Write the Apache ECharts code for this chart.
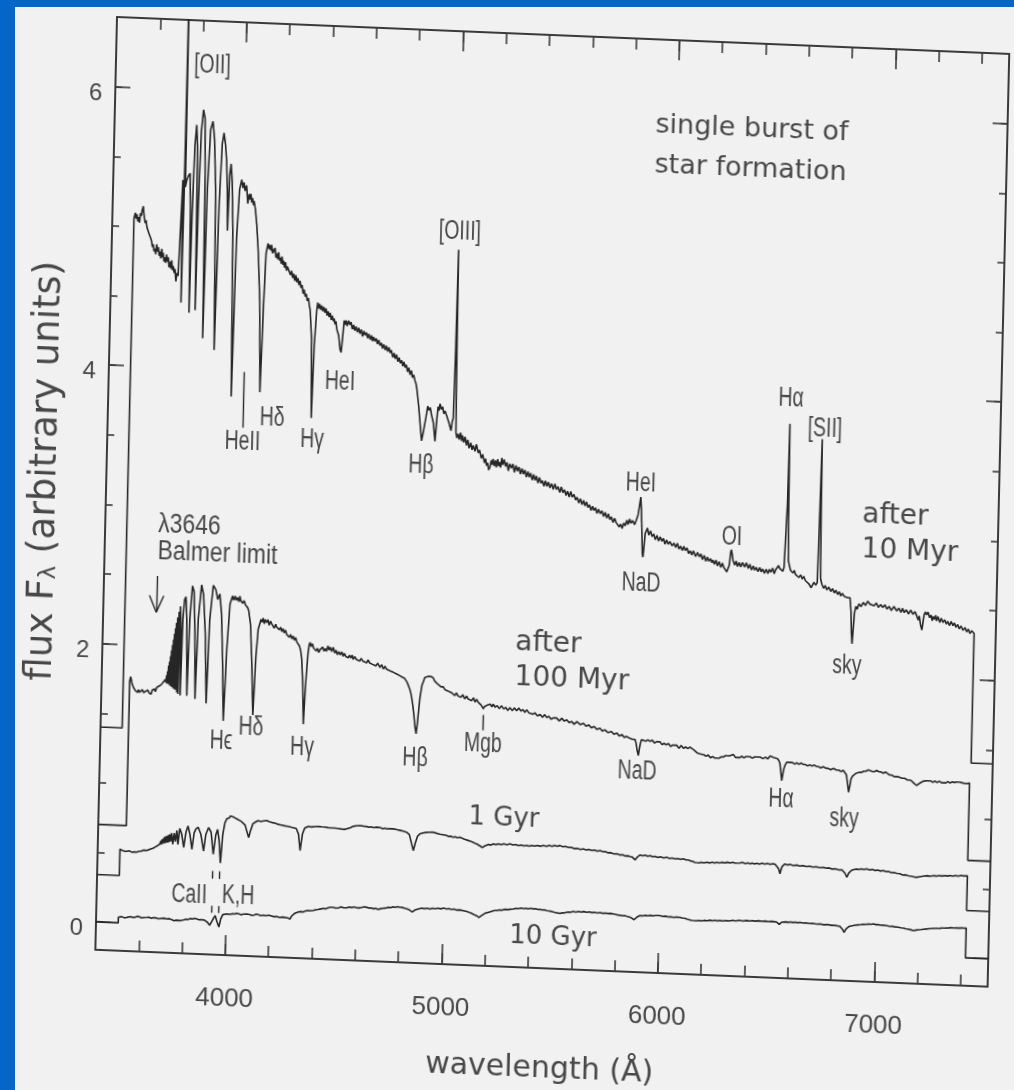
<!DOCTYPE html>
<html>
<head>
<meta charset="utf-8">
<script src="https://cdn.jsdelivr.net/npm/echarts@6/dist/echarts.min.js"></script>
<style>
  html, body { margin: 0; padding: 0; width: 1014px; height: 1090px; overflow: hidden; background: #0466c8; }
  #paper { position: absolute; left: 15px; top: 7px; right: 0; bottom: 0; background: #f1f1f1; }
  /* the printed figure sits slightly skewed on the page */
  #chart { position: absolute; left: 0; top: 0; width: 1014px; height: 1090px;
           transform-origin: 117px 17px; transform: matrix(0.99914, 0.04135, -0.02321, 0.99973, 0, 0); }
</style>
</head>
<body>
<div id="paper"></div>
<div id="chart"></div>
<script>
// Axis ranges and ticks
const X_MIN = 3400, X_MAX = 7525;
const Y_MIN = -0.2, Y_MAX = 6.5;
const xMinorTicks = [3600, 3800, 4000, 4200, 4400, 4600, 4800, 5000, 5200, 5400, 5600, 5800, 6000, 6200, 6400, 6600, 6800, 7000, 7200, 7400];
const xMajorTicks = [4000, 5000, 6000, 7000];
const yMinorTicks = [0, 0.5, 1, 1.5, 2, 2.5, 3, 3.5, 4, 4.5, 5, 5.5, 6];
const yMajorTicks = [0, 2, 4, 6];

// Spectra: [wavelength (Å), flux]; each trace is drawn down to its own zero level at both ends
const spec10Myr = [
  [3400,1.4],[3500,1.4],[3500,5.06],[3506,5.10],[3510,5.06],[3514,5.09],[3518,5.04],[3522,5.07],[3526,5.03],[3530,5.10],[3534,5.08],[3537,5.12],[3542,5.15],[3545,5.10],[3548,5.07],[3552,5.03],[3556,5.05],[3561,5.00],[3565,5.01],[3570,4.96],[3575,4.97],[3580,4.92],[3584,4.90],[3588,4.86],[3592,4.88],[3596,4.83],[3600,4.85],[3604,4.81],[3608,4.88],[3612,4.83],[3616,4.86],[3620,4.80],[3624,4.83],[3628,4.78],[3632,4.85],[3636,4.79],[3639,4.82],[3643,4.76],[3647,4.79],[3651,4.75],[3655,4.81],[3659,4.76],[3663,4.79],[3667,4.72],[3671,4.76],[3675,4.71],[3679,4.77],[3683,4.70],[3687,4.73],[3691,4.68],[3695,4.71],[3700,4.62],[3704,4.68],[3710,4.66],
  [3716,5.0],[3722,5.35],[3726,4.47],[3729,5.2],[3731,7.0],[3734,5.3],[3740,5.35],[3747,5.38],[3755,5.40],[3760,5.1],[3764,4.40],[3768,5.1],[3774,5.6],[3780,5.75],[3786,5.6],[3789,5.1],[3792,4.42],[3796,5.2],[3802,5.7],[3810,5.86],[3818,5.8],[3824,5.4],[3830,4.22],[3836,5.3],[3845,5.72],[3855,5.78],[3864,5.65],[3874,5.3],[3884,4.14],[3892,5.2],[3900,5.62],[3907,5.70],[3915,5.62],[3922,5.5],[3928,5.3],[3933,5.0],[3938,5.40],[3943,5.48],[3950,5.35],[3958,5.0],[3968,3.81],[3976,4.95],[3985,5.3],[3994,5.37],[4000,5.31],[4005,5.35],[4010,5.29],[4017,5.33],[4024,5.20],[4030,5.27],[4034,5.23],[4038,5.27],[4042,5.21],[4046,5.24],[4050,5.19],[4053,5.22],[4060,5.16],[4068,5.05],[4078,4.85],[4090,4.5],[4100,3.85],[4108,4.50],[4114,4.85],
  [4122,4.92],[4127,4.88],[4130,4.91],[4136,4.87],[4139,4.91],[4144,4.85],[4147,4.88],[4152,4.86],[4155,4.89],[4160,4.82],[4163,4.85],[4168,4.81],[4172,4.86],[4177,4.80],[4180,4.82],[4185,4.78],[4188,4.83],[4193,4.77],[4196,4.80],[4201,4.75],[4205,4.79],[4210,4.73],[4214,4.76],[4219,4.74],[4224,4.75],[4229,4.70],[4234,4.73],[4239,4.68],[4244,4.71],[4249,4.66],[4254,4.70],[4259,4.65],[4264,4.68],[4269,4.63],[4274,4.66],[4279,4.61],[4284,4.63],[4289,4.57],[4294,4.60],[4299,4.55],[4304,4.57],[4309,4.52],[4314,4.54],[4319,4.49],[4324,4.45],[4333,4.25],[4340,3.68],[4346,4.2],[4354,4.45],[4358,4.51],[4362,4.47],[4367,4.50],[4372,4.46],[4377,4.49],[4382,4.45],[4387,4.48],[4392,4.44],[4397,4.47],[4402,4.42],[4407,4.45],[4412,4.41],[4417,4.44],[4422,4.39],[4427,4.42],[4432,4.38],[4436,4.40],[4440,4.36],[4444,4.38],[4448,4.33],[4453,4.34],[4458,4.28],[4466,4.18],[4471,4.16],[4477,4.28],[4482,4.39],[4486,4.36],[4491,4.39],[4496,4.35],[4502,4.39],[4509,4.36],[4514,4.38],[4520,4.33],[4526,4.36],[4532,4.32],[4538,4.35],[4544,4.31],[4550,4.34],[4556,4.30],[4562,4.33],[4568,4.28],[4574,4.32],[4580,4.29],[4586,4.31],[4592,4.27],[4598,4.30],[4604,4.26],[4610,4.29],[4615,4.25],[4620,4.28],[4626,4.25],[4632,4.27],[4638,4.23],[4644,4.26],[4650,4.22],[4656,4.24],[4662,4.20],[4668,4.23],[4674,4.19],[4680,4.22],[4686,4.18],[4692,4.21],[4697,4.17],[4703,4.19],[4710,4.14],[4716,4.17],[4722,4.13],[4728,4.16],[4734,4.11],[4740,4.14],[4746,4.10],[4752,4.12],[4757,4.08],[4763,4.11],[4768,4.07],[4774,4.09],[4780,4.04],[4786,4.07],[4792,4.02],[4798,4.05],[4803,4.00],[4809,4.02],[4815,3.98],[4820,3.96],[4825,3.92],[4835,3.80],[4845,3.65],[4852,3.55],[4860,3.62],[4870,3.72],[4877,3.80],[4883,3.77],[4889,3.79],[4895,3.74],[4905,3.68],[4914,3.55],[4920,3.70],[4925,3.80],[4929,3.77],[4934,3.82],[4940,3.78],[4946,3.80],[4952,3.75],[4958,3.77],[4967,3.73],[4973,3.74],[4978,3.68],[4983,3.67],[4987,3.63],[4992,3.70],[4996,3.72],[5000,4.2],[5003,4.93],[5006,4.2],[5010,3.62],[5015,3.58],[5020,3.61],[5026,3.57],[5032,3.62],[5037,3.56],[5041,3.60],[5047,3.55],[5053,3.59],[5060,3.53],[5066,3.57],[5072,3.51],[5080,3.55],[5086,3.50],[5092,3.53],[5100,3.49],[5106,3.54],[5115,3.48],[5121,3.50],[5130,3.44],[5136,3.47],[5145,3.41],[5150,3.44],[5155,3.39],[5160,3.41],[5165,3.36],[5171,3.38],[5176,3.43],[5181,3.40],[5185,3.44],[5190,3.39],[5196,3.43],[5200,3.38],[5206,3.44],[5211,3.39],[5215,3.42],[5220,3.38],[5225,3.45],[5230,3.40],[5236,3.44],[5243,3.39],[5249,3.42],[5256,3.36],[5262,3.41],[5270,3.38],[5277,3.41],[5284,3.35],[5291,3.40],[5298,3.36],[5305,3.39],[5312,3.34],[5319,3.38],[5326,3.34],[5333,3.37],[5340,3.32],[5347,3.36],[5353,3.32],[5360,3.35],[5367,3.30],[5374,3.34],[5380,3.30],[5387,3.33],[5394,3.28],[5401,3.32],[5408,3.28],[5415,3.30],[5422,3.26],[5429,3.30],[5436,3.26],[5443,3.29],[5450,3.25],[5458,3.28],[5466,3.24],[5473,3.28],[5481,3.24],[5488,3.26],[5496,3.22],[5503,3.26],[5510,3.22],[5518,3.24],[5525,3.20],[5532,3.23],[5540,3.19],[5547,3.23],[5554,3.19],[5562,3.21],[5570,3.17],[5577,3.19],[5585,3.15],[5592,3.18],[5600,3.14],[5607,3.17],[5614,3.13],[5621,3.16],[5628,3.12],[5635,3.14],[5642,3.10],[5649,3.13],[5656,3.10],[5663,3.12],[5670,3.08],[5677,3.11],[5685,3.08],[5693,3.10],[5701,3.06],[5708,3.09],[5716,3.05],[5723,3.08],[5730,3.04],[5737,3.06],[5745,3.02],[5752,3.05],[5760,3.02],[5767,3.03],[5774,2.99],[5781,3.01],[5788,2.98],[5795,3.02],[5802,3.00],[5809,3.04],[5815,3.01],[5822,3.05],[5828,3.02],[5836,3.04],[5845,3.01],[5852,3.04],[5860,3.08],[5866,3.15],[5871,3.21],[5875,3.12],[5878,3.02],[5884,2.80],[5887,2.78],[5891,2.86],[5895,2.95],[5900,2.97],[5905,2.99],[5912,2.94],[5920,2.97],[5927,2.93],[5935,2.95],[5942,2.91],[5950,2.94],[5957,2.90],[5965,2.93],[5972,2.90],[5980,2.92],[5987,2.88],[5995,2.91],[6002,2.88],[6010,2.90],[6020,2.87],[6029,2.89],[6037,2.86],[6045,2.89],[6052,2.85],[6060,2.87],[6068,2.84],[6075,2.87],[6082,2.84],[6090,2.86],[6097,2.82],[6105,2.84],[6112,2.81],[6120,2.84],[6130,2.80],[6139,2.83],[6147,2.80],[6155,2.82],[6162,2.78],[6170,2.81],[6178,2.77],[6185,2.80],[6192,2.77],[6200,2.79],[6206,2.76],[6211,2.78],[6218,2.75],[6225,2.78],[6232,2.74],[6240,2.77],[6248,2.73],[6255,2.76],[6262,2.73],[6270,2.74],[6276,2.70],[6281,2.69],[6287,2.75],[6292,2.84],[6295,2.86],[6299,2.83],[6304,2.78],[6312,2.75],[6318,2.78],[6325,2.74],[6332,2.77],[6340,2.74],[6348,2.77],[6358,2.74],[6366,2.77],[6375,2.73],[6382,2.76],[6390,2.72],[6398,2.75],[6405,2.72],[6412,2.74],[6420,2.71],[6428,2.74],[6435,2.71],[6442,2.73],[6450,2.70],[6458,2.73],[6466,2.70],[6473,2.73],[6480,2.71],[6488,2.74],[6495,2.70],[6502,2.73],[6510,2.72],[6515,2.76],[6520,2.74],[6527,2.75],[6535,2.72],[6540,2.75],[6545,2.76],[6549,3.2],[6552,3.78],[6555,3.2],[6559,2.80],[6565,2.76],[6570,2.73],[6576,2.74],[6582,2.71],[6588,2.73],[6594,2.70],[6602,2.71],[6610,2.68],[6618,2.70],[6625,2.67],[6632,2.69],[6640,2.66],[6648,2.67],[6655,2.64],[6661,2.63],[6667,2.61],[6673,2.63],[6680,2.65],[6688,2.63],[6695,2.65],[6699,3.1],[6703,3.68],[6706,3.1],[6710,2.68],[6716,2.64],[6725,2.61],[6732,2.63],[6740,2.60],[6749,2.62],[6758,2.59],[6766,2.61],[6775,2.58],[6782,2.60],[6790,2.57],[6798,2.59],[6805,2.56],[6812,2.58],[6820,2.56],[6828,2.57],[6835,2.55],[6842,2.56],[6848,2.55],[6854,2.45],[6858,2.30],[6862,2.22],[6866,2.33],[6870,2.44],[6876,2.49],[6882,2.47],[6890,2.51],[6900,2.49],[6910,2.52],[6920,2.50],[6930,2.53],[6941,2.51],[6950,2.52],[6960,2.50],[6970,2.52],[6980,2.49],[6990,2.51],[7001,2.49],[7010,2.51],[7020,2.48],[7030,2.50],[7040,2.47],[7052,2.50],[7065,2.47],[7075,2.49],[7085,2.46],[7092,2.49],[7100,2.46],[7110,2.48],[7120,2.45],[7130,2.48],[7140,2.45],[7150,2.47],[7158,2.44],[7165,2.41],[7170,2.44],[7176,2.38],[7183,2.34],[7188,2.40],[7192,2.45],[7198,2.47],[7204,2.45],[7210,2.47],[7218,2.43],[7224,2.45],[7230,2.41],[7234,2.44],[7240,2.42],[7246,2.45],[7250,2.41],[7257,2.44],[7265,2.40],[7272,2.43],[7280,2.40],[7288,2.42],[7295,2.39],[7302,2.41],[7310,2.38],[7318,2.41],[7326,2.38],[7333,2.40],[7340,2.37],[7348,2.39],[7355,2.36],[7364,2.38],[7373,2.35],[7382,2.37],[7390,2.34],[7398,2.36],[7405,2.33],[7414,2.35],[7425,2.33],[7425,1.4],[7525,1.4]
];

const spec100Myr = [
  [3400,0.7],[3530,0.7],[3530,1.74],[3534,1.77],[3537,1.75],[3541,1.72],[3545,1.71],[3549,1.69],[3553,1.70],[3558,1.67],[3563,1.68],[3568,1.66],[3572,1.68],[3576,1.66],[3580,1.67],[3585,1.65],[3590,1.68],[3595,1.66],[3600,1.65],[3605,1.67],[3610,1.66],[3615,1.68],[3620,1.66],[3625,1.67],[3630,1.65],[3635,1.68],[3640,1.67],[3645,1.69],[3650,1.67],[3655,1.70],[3660,1.69],[3665,1.71],[3670,1.70],[3675,1.72],[3680,1.71],[3685,1.74],[3690,1.73],[3694,1.76],
  [3697,1.74],[3700,1.79],[3702,1.73],[3704,1.82],[3706,1.73],[3708,1.86],[3710,1.73],[3712,1.89],[3714,1.72],[3716,1.93],[3718,1.72],[3720,1.97],[3722,1.71],[3724,2.01],[3726,1.71],[3728,2.05],[3730,1.70],[3732,2.09],[3734,1.70],[3736,2.13],[3738,1.69],[3740,2.17],[3742,1.69],[3745,2.21],[3748,1.67],[3751,2.25],[3754,1.66],[3757,2.29],[3761,2.12],[3764,1.65],[3769,2.2],[3775,2.34],[3781,2.36],[3787,2.2],[3795,1.65],[3801,2.2],[3810,2.44],[3818,2.40],[3826,2.1],[3833,1.63],[3840,2.2],[3852,2.45],[3862,2.38],[3874,2.1],[3885,1.60],[3893,2.2],[3906,2.45],[3918,2.42],[3928,2.35],[3937,2.39],[3947,2.25],[3957,1.9],[3966,1.48],[3975,2.0],[3985,2.32],[3996,2.38],[4002,2.35],[4008,2.38],[4014,2.35],[4020,2.37],[4026,2.34],[4030,2.38],[4034,2.35],[4038,2.36],[4044,2.33],[4050,2.35],[4056,2.32],[4062,2.33],[4067,2.30],[4072,2.28],[4082,2.18],[4092,1.9],[4102,1.53],[4110,1.95],[4118,2.15],
  [4125,2.19],[4130,2.22],[4135,2.20],[4140,2.23],[4145,2.19],[4150,2.22],[4156,2.20],[4162,2.22],[4168,2.18],[4174,2.21],[4180,2.19],[4186,2.20],[4192,2.16],[4198,2.19],[4203,2.17],[4209,2.18],[4215,2.15],[4221,2.17],[4227,2.14],[4233,2.16],[4238,2.13],[4244,2.15],[4250,2.12],[4256,2.13],[4262,2.10],[4268,2.12],[4274,2.09],[4280,2.11],[4286,2.08],[4292,2.10],[4297,2.07],[4303,2.07],[4310,2.04],[4316,2.01],[4322,1.95],[4330,1.75],[4336,1.48],[4342,1.75],[4350,1.98],[4355,2.05],[4359,2.07],[4364,2.04],[4370,2.06],[4376,2.03],[4382,2.04],[4388,2.01],[4394,2.03],[4400,2.00],[4406,2.02],[4412,2.01],[4418,2.04],[4424,2.01],[4430,2.03],[4436,2.01],[4442,2.05],[4448,2.02],[4454,2.04],[4460,2.01],[4467,2.04],[4474,2.00],[4480,2.02],[4486,1.99],[4493,2.01],[4500,1.99],[4507,2.01],[4513,1.98],[4519,2.00],[4525,1.98],[4531,1.99],[4537,1.97],[4543,1.99],[4549,1.97],[4555,1.99],[4560,1.96],[4567,1.98],[4575,1.96],[4582,1.97],[4590,1.95],[4597,1.97],[4605,1.95],[4613,1.96],[4622,1.94],[4629,1.96],[4636,1.94],[4643,1.95],[4650,1.93],[4657,1.94],[4665,1.92],[4674,1.94],[4684,1.91],[4692,1.93],[4700,1.90],[4708,1.92],[4715,1.90],[4722,1.91],[4730,1.89],[4738,1.90],[4746,1.88],[4753,1.89],[4760,1.87],[4767,1.88],[4773,1.86],[4779,1.87],[4785,1.85],[4793,1.86],[4799,1.84],[4805,1.84],[4812,1.81],[4818,1.80],[4825,1.76],[4832,1.72],[4840,1.65],[4846,1.58],[4852,1.50],[4858,1.445],[4863,1.52],[4868,1.62],[4872,1.70],[4877,1.76],[4881,1.80],[4886,1.82],[4892,1.85],[4900,1.84],[4906,1.86],[4915,1.85],[4922,1.86],[4932,1.85],[4938,1.83],[4945,1.84],[4952,1.81],[4960,1.81],[4968,1.79],[4979,1.79],[4987,1.77],[4995,1.78],[5002,1.76],[5010,1.77],[5018,1.75],[5026,1.75],[5033,1.73],[5040,1.75],[5047,1.73],[5055,1.74],[5062,1.72],[5070,1.74],[5079,1.71],[5088,1.73],[5095,1.71],[5103,1.72],[5111,1.70],[5120,1.72],[5127,1.69],[5135,1.71],[5142,1.69],[5150,1.69],[5156,1.67],[5160,1.67],[5166,1.645],[5171,1.66],[5175,1.655],[5182,1.67],[5190,1.66],[5198,1.68],[5205,1.66],[5212,1.68],[5220,1.66],[5230,1.67],[5240,1.65],[5250,1.67],[5260,1.65],[5270,1.66],[5279,1.64],[5289,1.66],[5300,1.64],[5310,1.66],[5320,1.64],[5330,1.66],[5340,1.64],[5350,1.65],[5358,1.63],[5367,1.65],[5376,1.63],[5385,1.64],[5395,1.62],[5405,1.63],[5417,1.61],[5429,1.62],[5440,1.60],[5450,1.62],[5460,1.60],[5470,1.61],[5480,1.59],[5490,1.60],[5498,1.59],[5506,1.60],[5518,1.58],[5530,1.60],[5541,1.58],[5553,1.59],[5564,1.57],[5575,1.58],[5587,1.56],[5600,1.58],[5615,1.56],[5630,1.57],[5642,1.55],[5655,1.56],[5667,1.54],[5680,1.55],[5693,1.53],[5707,1.54],[5718,1.52],[5730,1.53],[5745,1.51],[5760,1.52],[5772,1.50],[5785,1.51],[5797,1.49],[5810,1.50],[5820,1.48],[5830,1.49],[5840,1.48],[5847,1.49],[5858,1.47],[5870,1.47],[5876,1.44],[5880,1.40],[5887,1.355],[5891,1.40],[5895,1.44],[5900,1.47],[5908,1.48],[5919,1.46],[5930,1.47],[5940,1.46],[5950,1.47],[5960,1.45],[5970,1.46],[5978,1.45],[5986,1.46],[5995,1.44],[6005,1.45],[6015,1.44],[6025,1.45],[6035,1.43],[6045,1.44],[6054,1.43],[6063,1.44],[6074,1.42],[6085,1.44],[6095,1.42],[6105,1.43],[6115,1.42],[6125,1.43],[6135,1.42],[6145,1.41],[6153,1.40],[6160,1.39],[6166,1.38],[6172,1.385],[6181,1.38],[6190,1.38],[6200,1.37],[6210,1.38],[6220,1.36],[6230,1.37],[6240,1.36],[6249,1.37],[6260,1.36],[6270,1.37],[6280,1.37],[6290,1.38],[6299,1.37],[6308,1.38],[6317,1.38],[6326,1.39],[6336,1.37],[6345,1.38],[6355,1.37],[6365,1.38],[6375,1.37],[6385,1.38],[6394,1.37],[6403,1.38],[6414,1.37],[6425,1.38],[6437,1.38],[6450,1.38],[6462,1.37],[6475,1.38],[6485,1.37],[6496,1.39],[6505,1.38],[6515,1.38],[6523,1.37],[6530,1.375],[6537,1.36],[6542,1.34],[6547,1.28],[6552,1.218],[6556,1.26],[6560,1.30],[6566,1.33],[6573,1.35],[6581,1.36],[6590,1.35],[6600,1.35],[6610,1.34],[6620,1.35],[6630,1.34],[6640,1.35],[6650,1.34],[6660,1.34],[6670,1.33],[6680,1.34],[6690,1.33],[6700,1.34],[6710,1.33],[6720,1.33],[6730,1.32],[6743,1.33],[6754,1.32],[6765,1.32],[6777,1.31],[6790,1.32],[6803,1.31],[6815,1.31],[6825,1.30],[6835,1.31],[6843,1.30],[6850,1.28],[6856,1.22],[6862,1.155],[6867,1.20],[6872,1.25],[6878,1.27],[6885,1.28],[6892,1.29],[6898,1.29],[6908,1.30],[6920,1.30],[6930,1.31],[6940,1.31],[6950,1.32],[6959,1.32],[6970,1.31],[6980,1.31],[6990,1.32],[7000,1.31],[7010,1.31],[7020,1.30],[7030,1.31],[7040,1.30],[7050,1.29],[7060,1.29],[7070,1.28],[7080,1.28],[7090,1.28],[7098,1.277],[7108,1.27],[7120,1.27],[7132,1.26],[7145,1.26],[7155,1.25],[7165,1.235],[7170,1.24],[7176,1.223],[7183,1.23],[7190,1.24],[7197,1.25],[7205,1.255],[7213,1.26],[7222,1.26],[7231,1.25],[7240,1.26],[7250,1.25],[7260,1.26],[7270,1.25],[7280,1.26],[7290,1.25],[7299,1.26],[7310,1.25],[7320,1.26],[7330,1.25],[7340,1.26],[7350,1.255],[7360,1.26],[7368,1.25],[7376,1.26],[7386,1.255],[7395,1.26],[7403,1.25],[7410,1.256],[7420,1.255],[7420,0.7],[7525,0.7]
];

const spec1Gyr = [
  [3400,0.34],[3503,0.34],[3503,0.53],[3509,0.525],[3515,0.52],[3522,0.51],[3530,0.515],[3537,0.52],[3545,0.52],[3552,0.51],[3560,0.51],[3570,0.515],[3580,0.512],[3590,0.52],[3600,0.52],[3612,0.53],[3626,0.527],[3635,0.535],[3645,0.54],[3655,0.545],[3665,0.555],[3676,0.565],[3687,0.579],
  [3690,0.60],[3693,0.575],[3696,0.61],[3699,0.58],[3702,0.62],[3705,0.585],[3708,0.63],[3711,0.585],[3714,0.635],[3717,0.59],[3720,0.64],[3723,0.59],[3726,0.645],[3729,0.595],[3732,0.65],[3736,0.60],[3740,0.66],[3746,0.58],[3752,0.66],[3758,0.60],[3764,0.68],[3770,0.58],[3777,0.695],[3786,0.66],[3797,0.56],[3806,0.67],[3815,0.716],[3824,0.66],[3835,0.55],[3844,0.67],[3852,0.697],[3862,0.71],[3875,0.66],[3889,0.54],[3898,0.66],[3910,0.71],[3922,0.68],[3934,0.52],[3944,0.66],[3952,0.70],[3960,0.62],[3968,0.46],[3976,0.66],[3985,0.75],[3993,0.778],[4000,0.79],[4004,0.785],[4010,0.80],[4015,0.803],[4022,0.795],[4028,0.79],[4034,0.785],[4040,0.78],[4047,0.775],[4054,0.77],[4060,0.765],[4065,0.76],[4078,0.74],[4088,0.69],[4096,0.65],[4104,0.70],[4114,0.75],[4124,0.762],[4131,0.77],[4138,0.775],[4144,0.768],[4150,0.77],[4158,0.765],[4165,0.775],[4172,0.77],[4178,0.778],[4185,0.768],[4192,0.77],[4198,0.762],[4205,0.765],[4212,0.758],[4220,0.76],[4230,0.754],[4239,0.758],[4247,0.75],[4255,0.752],[4262,0.745],[4270,0.748],[4278,0.742],[4285,0.745],[4293,0.737],[4301,0.738],[4315,0.73],[4326,0.69],[4335,0.572],[4344,0.69],[4354,0.735],[4363,0.742],[4370,0.748],[4378,0.75],[4385,0.745],[4393,0.755],[4402,0.75],[4410,0.757],[4418,0.752],[4424,0.758],[4432,0.75],[4440,0.755],[4448,0.748],[4455,0.75],[4462,0.745],[4470,0.748],[4478,0.744],[4486,0.75],[4493,0.744],[4500,0.748],[4508,0.742],[4515,0.745],[4522,0.74],[4530,0.743],[4538,0.738],[4548,0.742],[4556,0.748],[4565,0.752],[4575,0.76],[4585,0.765],[4597,0.768],[4609,0.77],[4617,0.764],[4625,0.767],[4632,0.762],[4640,0.765],[4650,0.76],[4660,0.764],[4672,0.758],[4686,0.763],[4695,0.757],[4705,0.76],[4715,0.754],[4725,0.758],[4735,0.753],[4745,0.757],[4754,0.752],[4763,0.756],[4772,0.75],[4780,0.752],[4788,0.745],[4795,0.747],[4802,0.74],[4810,0.742],[4818,0.735],[4825,0.736],[4838,0.72],[4850,0.65],[4858,0.606],[4866,0.66],[4876,0.71],[4887,0.728],[4894,0.732],[4900,0.735],[4908,0.73],[4915,0.74],[4922,0.735],[4930,0.742],[4938,0.736],[4947,0.744],[4955,0.735],[4962,0.738],[4970,0.73],[4978,0.732],[4986,0.725],[4995,0.728],[5002,0.72],[5010,0.724],[5020,0.717],[5030,0.72],[5040,0.714],[5050,0.718],[5060,0.712],[5072,0.716],[5081,0.708],[5090,0.705],[5100,0.7],[5110,0.695],[5120,0.69],[5130,0.685],[5140,0.678],[5150,0.673],[5165,0.66],[5176,0.648],[5187,0.66],[5196,0.668],[5205,0.672],[5215,0.668],[5227,0.678],[5238,0.672],[5250,0.68],[5262,0.675],[5275,0.682],[5290,0.676],[5304,0.683],[5317,0.676],[5330,0.68],[5343,0.673],[5355,0.678],[5368,0.672],[5381,0.676],[5393,0.672],[5405,0.678],[5418,0.674],[5430,0.68],[5444,0.675],[5458,0.681],[5472,0.676],[5485,0.683],[5498,0.678],[5510,0.685],[5522,0.68],[5535,0.686],[5548,0.678],[5560,0.682],[5575,0.674],[5590,0.675],[5602,0.668],[5615,0.67],[5630,0.664],[5643,0.669],[5656,0.662],[5670,0.666],[5683,0.66],[5695,0.664],[5708,0.657],[5720,0.662],[5733,0.654],[5745,0.656],[5758,0.648],[5770,0.65],[5784,0.642],[5798,0.643],[5812,0.636],[5825,0.638],[5838,0.63],[5850,0.632],[5860,0.628],[5870,0.625],[5877,0.615],[5883,0.605],[5888,0.615],[5893,0.625],[5899,0.638],[5905,0.642],[5918,0.636],[5930,0.642],[5941,0.635],[5952,0.64],[5964,0.633],[5975,0.637],[5988,0.63],[6000,0.635],[6015,0.628],[6029,0.633],[6042,0.626],[6055,0.63],[6068,0.624],[6080,0.628],[6093,0.622],[6106,0.627],[6118,0.62],[6130,0.62],[6140,0.614],[6150,0.612],[6160,0.604],[6168,0.606],[6180,0.602],[6190,0.608],[6202,0.604],[6215,0.61],[6228,0.605],[6240,0.611],[6250,0.606],[6261,0.612],[6273,0.608],[6285,0.614],[6298,0.61],[6310,0.616],[6322,0.611],[6335,0.617],[6345,0.612],[6353,0.618],[6366,0.613],[6380,0.618],[6392,0.612],[6405,0.617],[6415,0.612],[6425,0.617],[6435,0.611],[6446,0.617],[6458,0.612],[6470,0.618],[6482,0.613],[6495,0.619],[6508,0.613],[6520,0.619],[6532,0.614],[6540,0.61],[6547,0.585],[6554,0.548],[6558,0.575],[6563,0.6],[6569,0.612],[6575,0.62],[6588,0.614],[6600,0.618],[6615,0.612],[6630,0.616],[6645,0.61],[6661,0.614],[6675,0.608],[6690,0.612],[6705,0.606],[6720,0.61],[6737,0.604],[6754,0.608],[6767,0.602],[6780,0.605],[6795,0.598],[6810,0.6],[6825,0.594],[6840,0.595],[6848,0.585],[6855,0.57],[6863,0.543],[6868,0.56],[6872,0.575],[6878,0.588],[6885,0.595],[6895,0.6],[6905,0.605],[6918,0.602],[6930,0.608],[6942,0.604],[6954,0.61],[6967,0.603],[6980,0.607],[6992,0.6],[7005,0.604],[7018,0.598],[7031,0.602],[7043,0.595],[7055,0.597],[7068,0.59],[7080,0.592],[7094,0.586],[7108,0.584],[7121,0.576],[7135,0.578],[7148,0.572],[7160,0.57],[7173,0.566],[7186,0.564],[7198,0.568],[7210,0.572],[7222,0.575],[7235,0.578],[7249,0.576],[7263,0.581],[7276,0.578],[7290,0.583],[7302,0.58],[7315,0.585],[7328,0.582],[7340,0.586],[7352,0.583],[7365,0.588],[7378,0.585],[7390,0.59],[7405,0.587],[7420,0.59],[7420,0.34],[7525,0.34]
];

const spec10Gyr = [
  [3400,0],[3503,0],[3503,0.04],[3511,0.046],[3520,0.045],[3530,0.038],[3540,0.04],[3550,0.045],[3560,0.048],[3570,0.042],[3580,0.045],[3590,0.052],[3600,0.05],[3610,0.043],[3620,0.046],[3627,0.04],[3634,0.048],[3644,0.05],[3655,0.043],[3665,0.048],[3675,0.047],[3688,0.04],[3700,0.044],[3713,0.047],[3726,0.042],[3738,0.045],[3750,0.038],[3760,0.032],[3770,0.036],[3779,0.03],[3788,0.034],[3796,0.042],[3805,0.04],[3815,0.046],[3825,0.045],[3835,0.052],[3845,0.05],[3855,0.055],[3865,0.051],[3875,0.046],[3885,0.048],[3893,0.04],[3900,0.045],[3908,0.038],[3915,0.03],[3920,0.02],[3925,0.01],[3934,0.0],[3942,0.06],[3950,0.08],[3958,0.04],[3968,0.0],[3976,0.06],[3985,0.09],[3994,0.1],[4003,0.096],[4012,0.09],[4020,0.094],[4030,0.1],[4040,0.098],[4050,0.104],[4060,0.1],[4070,0.095],[4080,0.1],[4088,0.106],[4095,0.102],[4103,0.095],[4110,0.098],[4120,0.092],[4130,0.097],[4140,0.103],[4150,0.1],[4160,0.094],[4170,0.098],[4178,0.1],[4187,0.096],[4198,0.1],[4210,0.095],[4222,0.09],[4235,0.092],[4248,0.086],[4260,0.09],[4272,0.088],[4285,0.085],[4296,0.079],[4303,0.1],[4310,0.11],[4318,0.122],[4327,0.128],[4335,0.132],[4345,0.135],[4355,0.132],[4365,0.14],[4375,0.145],[4385,0.143],[4394,0.15],[4402,0.146],[4413,0.152],[4425,0.155],[4437,0.16],[4450,0.165],[4460,0.162],[4470,0.17],[4482,0.175],[4494,0.175],[4507,0.17],[4520,0.173],[4530,0.18],[4540,0.176],[4549,0.172],[4557,0.175],[4568,0.182],[4580,0.178],[4590,0.184],[4600,0.18],[4612,0.178],[4625,0.183],[4637,0.188],[4649,0.185],[4660,0.18],[4670,0.182],[4680,0.176],[4690,0.18],[4700,0.174],[4710,0.178],[4722,0.182],[4735,0.185],[4748,0.192],[4760,0.19],[4770,0.196],[4780,0.193],[4792,0.198],[4803,0.195],[4814,0.194],[4825,0.19],[4835,0.186],[4845,0.18],[4853,0.172],[4860,0.165],[4866,0.172],[4872,0.18],[4880,0.188],[4890,0.19],[4902,0.195],[4915,0.192],[4928,0.197],[4941,0.192],[4953,0.198],[4965,0.195],[4978,0.2],[4990,0.196],[5004,0.202],[5018,0.197],[5029,0.2],[5040,0.195],[5052,0.198],[5065,0.192],[5080,0.194],[5095,0.19],[5108,0.186],[5120,0.18],[5133,0.174],[5145,0.165],[5157,0.158],[5168,0.146],[5176,0.155],[5185,0.165],[5197,0.178],[5210,0.185],[5220,0.19],[5230,0.195],[5240,0.2],[5250,0.2],[5262,0.206],[5275,0.205],[5288,0.212],[5300,0.21],[5313,0.214],[5326,0.217],[5338,0.222],[5350,0.22],[5362,0.225],[5375,0.222],[5385,0.226],[5395,0.222],[5407,0.227],[5418,0.223],[5429,0.225],[5440,0.22],[5450,0.222],[5460,0.218],[5470,0.22],[5480,0.215],[5492,0.213],[5505,0.21],[5515,0.206],[5525,0.203],[5533,0.2],[5542,0.199],[5553,0.203],[5565,0.205],[5577,0.21],[5590,0.21],[5602,0.216],[5615,0.213],[5628,0.218],[5640,0.215],[5652,0.219],[5665,0.215],[5678,0.218],[5690,0.214],[5702,0.217],[5715,0.213],[5728,0.216],[5740,0.212],[5752,0.215],[5765,0.212],[5776,0.214],[5788,0.211],[5800,0.208],[5810,0.205],[5820,0.203],[5830,0.2],[5840,0.202],[5850,0.198],[5860,0.195],[5870,0.19],[5878,0.183],[5885,0.175],[5891,0.185],[5898,0.195],[5905,0.203],[5912,0.207],[5923,0.205],[5935,0.21],[5948,0.208],[5960,0.212],[5972,0.209],[5985,0.213],[5994,0.21],[6004,0.213],[6017,0.208],[6030,0.21],[6042,0.206],[6055,0.208],[6068,0.204],[6080,0.207],[6088,0.203],[6097,0.206],[6108,0.202],[6120,0.2],[6130,0.195],[6140,0.192],[6150,0.188],[6159,0.187],[6172,0.186],[6185,0.19],[6197,0.188],[6210,0.192],[6222,0.19],[6235,0.194],[6248,0.191],[6260,0.195],[6270,0.192],[6282,0.195],[6296,0.193],[6310,0.197],[6325,0.195],[6340,0.2],[6355,0.197],[6370,0.202],[6388,0.199],[6405,0.203],[6418,0.2],[6430,0.204],[6445,0.201],[6460,0.205],[6475,0.202],[6490,0.205],[6505,0.202],[6520,0.205],[6533,0.203],[6545,0.2],[6550,0.192],[6556,0.185],[6561,0.192],[6566,0.2],[6575,0.203],[6585,0.205],[6597,0.203],[6610,0.206],[6620,0.203],[6630,0.206],[6641,0.203],[6652,0.206],[6666,0.202],[6680,0.204],[6695,0.2],[6710,0.202],[6728,0.198],[6745,0.2],[6762,0.196],[6780,0.198],[6795,0.194],[6810,0.195],[6823,0.192],[6835,0.19],[6842,0.182],[6848,0.17],[6852,0.158],[6856,0.147],[6861,0.16],[6866,0.175],[6873,0.185],[6880,0.192],[6888,0.196],[6897,0.198],[6908,0.202],[6920,0.205],[6933,0.207],[6945,0.21],[6957,0.211],[6970,0.214],[6980,0.213],[6991,0.216],[7003,0.212],[7015,0.213],[7025,0.209],[7035,0.21],[7044,0.206],[7053,0.208],[7066,0.204],[7080,0.205],[7092,0.201],[7105,0.2],[7118,0.197],[7130,0.195],[7140,0.191],[7150,0.19],[7158,0.186],[7165,0.185],[7170,0.182],[7176,0.18],[7183,0.183],[7190,0.185],[7200,0.188],[7210,0.19],[7223,0.193],[7237,0.196],[7248,0.198],[7260,0.2],[7272,0.202],[7285,0.204],[7298,0.205],[7310,0.207],[7320,0.208],[7329,0.21],[7340,0.21],[7350,0.212],[7362,0.211],[7375,0.213],[7388,0.212],[7400,0.214],[7410,0.213],[7420,0.215],[7420,0],[7525,0]
];

// Text annotations: [wavelength, flux, text]
const lineLabels = [
  [3846,6.18,'[OII]'], [4025,3.49,'HeII'], [4159,3.67,'H\u03b4'], [4346,3.52,'H\u03b3'], [4469,3.945,'HeI'],
  [4852,3.37,'H\u03b2'], [5007,5.06,'[OIII]'], [5870,3.31,'HeI'], [5881,2.59,'NaD'], [6296,2.95,'OI'],
  [6554,3.96,'H\u03b1'], [6714,3.75,'[SII]'], [6841,2.06,'sky'],
  [3958,1.33,'H\u03f5'], [4095,1.44,'H\u03b4'], [4333,1.31,'H\u03b3'], [4856,1.27,'H\u03b2'], [5168,1.39,'Mgb'],
  [5883,1.24,'NaD'], [6551,1.08,'H\u03b1'], [6844,0.96,'sky']
];
const caLabelLeft = [[3910,0.22,'CaII']];
const caLabelRight = [[3979,0.224,'K,H']];
const balmerLabel = [[3645,2.77,'\u03bb3646\nBalmer limit']];
const ageLabels = [[6896,3.02,'after\n10 Myr'], [5307,2.0,'after\n100 Myr']];
const titleLabel = [[5899,5.74,'single burst of\nstar formation']];
const gyrLabels = [[5273,0.86,'1 Gyr'], [5512,0.02,'10 Gyr']];

// Short marker strokes: [wavelength, flux from, flux to]
const markerTicks = [[4025,3.99,3.59],[5168,1.60,1.49],[3931,0.40,0.345],[3965,0.40,0.345],[3931,0.15,0.10],[3965,0.15,0.10]];
// Arrow pointing at the Balmer limit: shaft and two head strokes
const arrowStrokes = [[[3645,2.50],[3645,2.24]], [[3645,2.24],[3612,2.36]], [[3645,2.24],[3678,2.36]]];

const INK = '#262626';
const AXIS = '#3a3a3a';
const TEXT = '#474747';
const SANS = '"Liberation Sans", Arial, sans-serif';
const WIDE = '"DejaVu Sans", "Liberation Sans", sans-serif';

function xAxisDef(pos, ticks, len, withLine, extra) {
  return Object.assign({
    type: 'value', position: pos, min: X_MIN, max: X_MAX,
    axisLine: { show: withLine, onZero: false, lineStyle: { color: AXIS, width: 2 } },
    axisTick: { show: true, inside: true, length: len, customValues: ticks, lineStyle: { color: AXIS, width: 1.6 } },
    axisLabel: { show: false }, splitLine: { show: false }
  }, extra || {});
}
function yAxisDef(pos, ticks, len, withLine, extra) {
  return Object.assign({
    type: 'value', position: pos, min: Y_MIN, max: Y_MAX,
    axisLine: { show: withLine, onZero: false, lineStyle: { color: AXIS, width: 2 } },
    axisTick: { show: true, inside: true, length: len, customValues: ticks, lineStyle: { color: AXIS, width: 1.6 } },
    axisLabel: { show: false }, splitLine: { show: false }
  }, extra || {});
}

function spectrum(data) {
  return { type: 'line', data: data, showSymbol: false, symbol: 'none', silent: true, z: 3,
           lineStyle: { color: INK, width: 1.6 }, clip: true };
}

// Text placed at data coordinates; scaleX narrows the lettering
function textSeries(items, opts) {
  return {
    type: 'custom', silent: true, z: 6, clip: false,
    data: items.map(d => [d[0], d[1]]),
    renderItem: function (params, api) {
      const p = api.coord([api.value(0), api.value(1)]);
      return {
        type: 'text', x: p[0], y: p[1], scaleX: opts.scaleX || 1,
        style: {
          text: items[params.dataIndex][2], fill: TEXT,
          fontSize: opts.fontSize, fontFamily: opts.fontFamily,
          lineHeight: opts.lineHeight || opts.fontSize * 1.2,
          align: opts.align || 'center', verticalAlign: 'middle'
        }
      };
    }
  };
}

const chart = echarts.init(document.getElementById('chart'), null, { renderer: 'canvas' });
chart.setOption({
  animation: false,
  backgroundColor: 'transparent',
  grid: { left: 117, top: 17, width: 893, height: 933 },
  xAxis: [
    xAxisDef('bottom', xMinorTicks, 11, true, {
      axisLabel: { show: true, customValues: xMajorTicks, formatter: v => String(v), margin: 31,
                   fontSize: 26, color: TEXT, fontFamily: SANS },
      name: 'wavelength (\u00c5)', nameLocation: 'middle', nameGap: 86,
      nameTextStyle: { fontSize: 30, color: TEXT, fontFamily: WIDE }
    }),
    xAxisDef('bottom', xMajorTicks, 20, false),
    xAxisDef('top', xMinorTicks, 11, true),
    xAxisDef('top', xMajorTicks, 20, false)
  ],
  yAxis: [
    yAxisDef('left', yMinorTicks, 7, true, {
      axisLabel: { show: true, customValues: yMajorTicks, formatter: v => String(v), margin: 13,
                   verticalAlign: 'top', lineHeight: 15, fontSize: 24, color: TEXT, fontFamily: SANS },
      name: 'flux F{sub|\u03bb} (arbitrary units)', nameLocation: 'middle', nameRotate: 90, nameGap: 42,
      nameTextStyle: { fontSize: 37, color: TEXT, fontFamily: WIDE, padding: [0, 0, 0, 20],
        rich: { sub: { fontSize: 23, fontFamily: WIDE, color: TEXT, padding: [12, 0, 0, 0] } } }
    }),
    yAxisDef('left', yMajorTicks, 15, false),
    yAxisDef('right', yMinorTicks, 7, true),
    yAxisDef('right', yMajorTicks, 15, false)
  ],
  series: [
    spectrum(spec10Myr),
    spectrum(spec100Myr),
    spectrum(spec1Gyr),
    spectrum(spec10Gyr),
    {
      type: 'line', data: [], silent: true, z: 4,
      markLine: {
        silent: true, symbol: ['none', 'none'], label: { show: false },
        lineStyle: { color: INK, width: 1.4, type: 'solid' },
        emphasis: { disabled: true },
        data: markerTicks.map(m => [{ coord: [m[0], m[1]] }, { coord: [m[0], m[2]] }])
          .concat(arrowStrokes.map(s => [{ coord: s[0] }, { coord: s[1] }]))
      }
    },
    textSeries(lineLabels, { fontSize: 27, fontFamily: SANS, scaleX: 0.72 }),
    textSeries(caLabelLeft, { fontSize: 27, fontFamily: SANS, scaleX: 0.72, align: 'right' }),
    textSeries(caLabelRight, { fontSize: 27, fontFamily: SANS, scaleX: 0.72, align: 'left' }),
    textSeries(balmerLabel, { fontSize: 27, fontFamily: SANS, scaleX: 0.85, lineHeight: 27, align: 'left' }),
    textSeries(ageLabels, { fontSize: 28, fontFamily: WIDE, lineHeight: 35, align: 'left' }),
    textSeries(titleLabel, { fontSize: 27, fontFamily: WIDE, lineHeight: 40, align: 'left' }),
    textSeries(gyrLabels, { fontSize: 26, fontFamily: WIDE })
  ]
});
</script>
</body>
</html>
